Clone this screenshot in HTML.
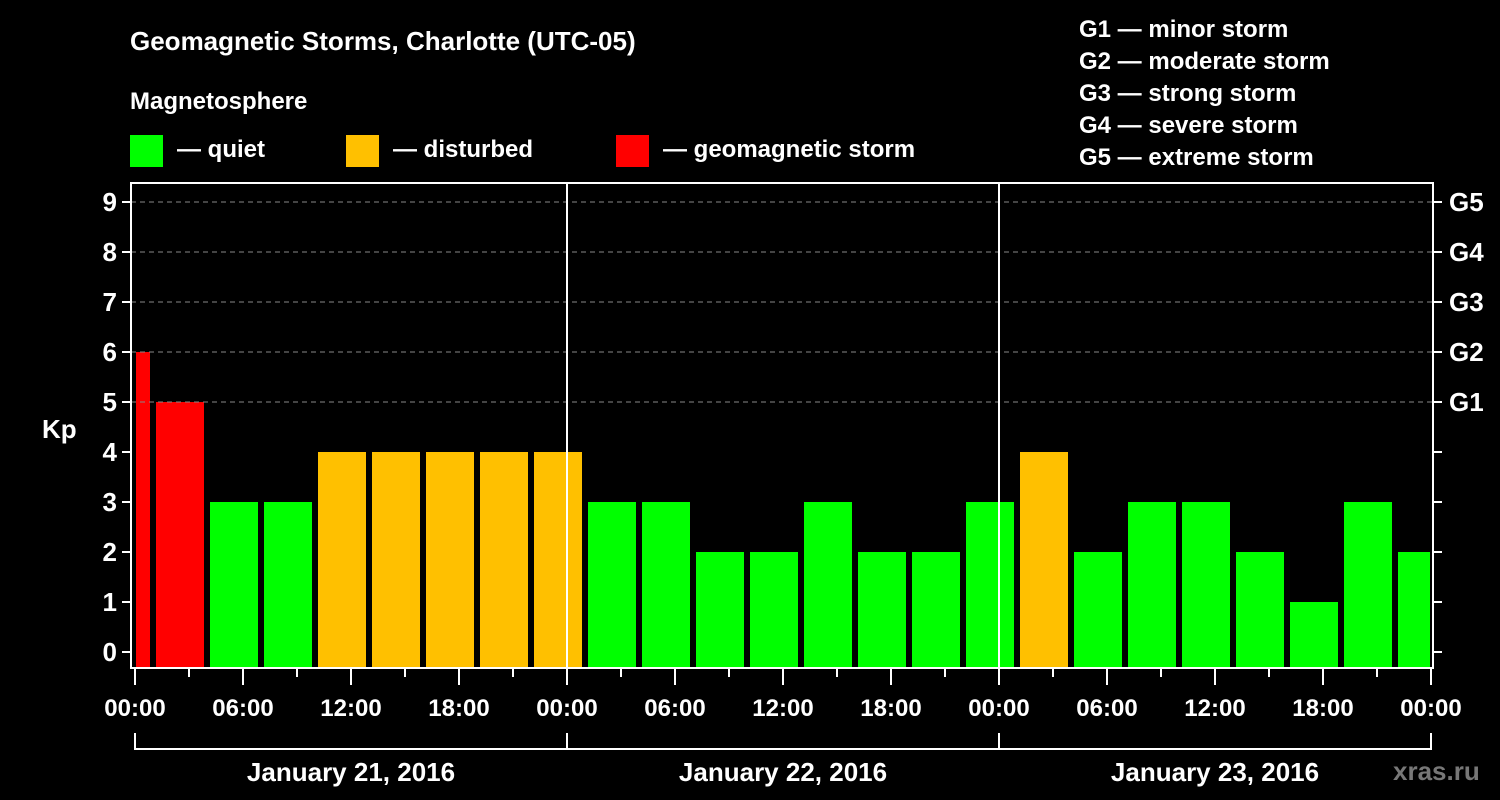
<!DOCTYPE html>
<html><head><meta charset="utf-8"><style>
html,body{margin:0;padding:0;background:#000;}
svg{display:block;font-family:"Liberation Sans",Arial,sans-serif;font-weight:bold;}
</style></head><body>
<svg id="chart" width="1500" height="800" viewBox="0 0 1500 800">
<rect width="1500" height="800" fill="#000"/>
<text x="130" y="50" fill="#fff" font-size="26">Geomagnetic Storms, Charlotte (UTC-05)</text>
<text x="130" y="109" fill="#fff" font-size="24">Magnetosphere</text>
<g><rect x="130" y="135" width="33" height="32" fill="#00ff00"/><text x="177" y="157" fill="#fff" font-size="24">— quiet</text></g>
<g><rect x="346" y="135" width="33" height="32" fill="#ffc000"/><text x="393" y="157" fill="#fff" font-size="24">— disturbed</text></g>
<g><rect x="616" y="135" width="33" height="32" fill="#ff0000"/><text x="663" y="157" fill="#fff" font-size="24">— geomagnetic storm</text></g>
<g fill="#fff" font-size="24">
<text x="1079" y="37">G1 — minor storm</text>
<text x="1079" y="69">G2 — moderate storm</text>
<text x="1079" y="101">G3 — strong storm</text>
<text x="1079" y="133">G4 — severe storm</text>
<text x="1079" y="165">G5 — extreme storm</text>
</g>
<text x="42" y="438" fill="#fff" font-size="26">Kp</text>
<text x="1393" y="780" fill="#777" font-size="26">xras.ru</text>
<g id="bars"></g>
<g id="axes"></g>
</svg>
<script>
const kpValues = [6,5,3,3,4,4,4,4,4,3,3,2,2,3,2,2,3,4,2,3,3,2,1,3,2];
const barStartHours = [-2,1,4,7,10,13,16,19,22,25,28,31,34,37,40,43,46,49,52,55,58,61,64,67,70];
const xTickLabels = ["00:00","06:00","12:00","18:00","00:00","06:00","12:00","18:00","00:00","06:00","12:00","18:00","00:00"];
const dayLabels = ["January 21, 2016","January 22, 2016","January 23, 2016"];
const gLabels = ["G1","G2","G3","G4","G5"];

const NS="http://www.w3.org/2000/svg";
const L=131,R=1433,T=183,B=668;
const x0=135, pxPerHour=18;
const X=h=>x0+h*pxPerHour;
const Y=k=>652-50*k;
function el(tag,attrs,parent){const e=document.createElementNS(NS,tag);for(const k in attrs)e.setAttribute(k,attrs[k]);parent.appendChild(e);return e;}
const bars=document.getElementById('bars'), axes=document.getElementById('axes');
function color(k){return k>=5?'#ff0000':(k>=4?'#ffc000':'#00ff00');}

kpValues.forEach((k,i)=>{
  let xa=X(barStartHours[i])+3, xb=X(barStartHours[i]+3)-3;
  xa=Math.max(xa,L+5); xb=Math.min(xb,R-3);
  const r=el('rect',{x:xa,y:Y(k),width:xb-xa,height:B-Y(k),fill:color(k)},bars);
  
  
});

for(let k=5;k<=9;k++){
  const g=el('line',{x1:L,x2:R,y1:Y(k),y2:Y(k),stroke:'#888','stroke-dasharray':'5,4','stroke-width':1},axes);
  
  
}
[1,2].forEach(d=>{
  const v=el('line',{x1:X(24*d),x2:X(24*d),y1:T,y2:B,stroke:'#fff','stroke-width':2},axes);
  
  
});
const frame=el('rect',{x:L,y:T,width:R-L,height:B-T,fill:'none',stroke:'#fff','stroke-width':2},axes);



for(let k=0;k<=9;k++){
  el('line',{x1:L-9,x2:L,y1:Y(k),y2:Y(k),stroke:'#fff','stroke-width':2},axes);
  el('line',{x1:R,x2:R+9,y1:Y(k),y2:Y(k),stroke:'#fff','stroke-width':2},axes);
  const t=el('text',{x:L-14,y:Y(k)+9,fill:'#fff','font-size':26,'text-anchor':'end'},axes);
  t.textContent=k;
  
  
}
gLabels.forEach((g,i)=>{
  const t=el('text',{x:R+16,y:Y(i+5)+9,fill:'#fff','font-size':26},axes);
  t.textContent=g;
  
  
});
for(let h=0;h<=72;h+=3){
  el('line',{x1:X(h),x2:X(h),y1:B,y2:h%6===0?685:677,stroke:'#fff','stroke-width':2},axes);
}
xTickLabels.forEach((s,i)=>{
  const t=el('text',{x:X(i*6),y:716,fill:'#fff','font-size':24,'text-anchor':'middle'},axes);
  t.textContent=s;
  
  
});
el('line',{x1:X(0),x2:X(72),y1:749,y2:749,stroke:'#fff','stroke-width':2},axes);
for(let d=0;d<=3;d++) el('line',{x1:X(24*d),x2:X(24*d),y1:733,y2:750,stroke:'#fff','stroke-width':2},axes);
dayLabels.forEach((s,i)=>{
  const t=el('text',{x:X(24*i+12),y:781,fill:'#fff','font-size':26,'text-anchor':'middle'},axes);
  t.textContent=s;
  
  
});
</script>
</body></html>
